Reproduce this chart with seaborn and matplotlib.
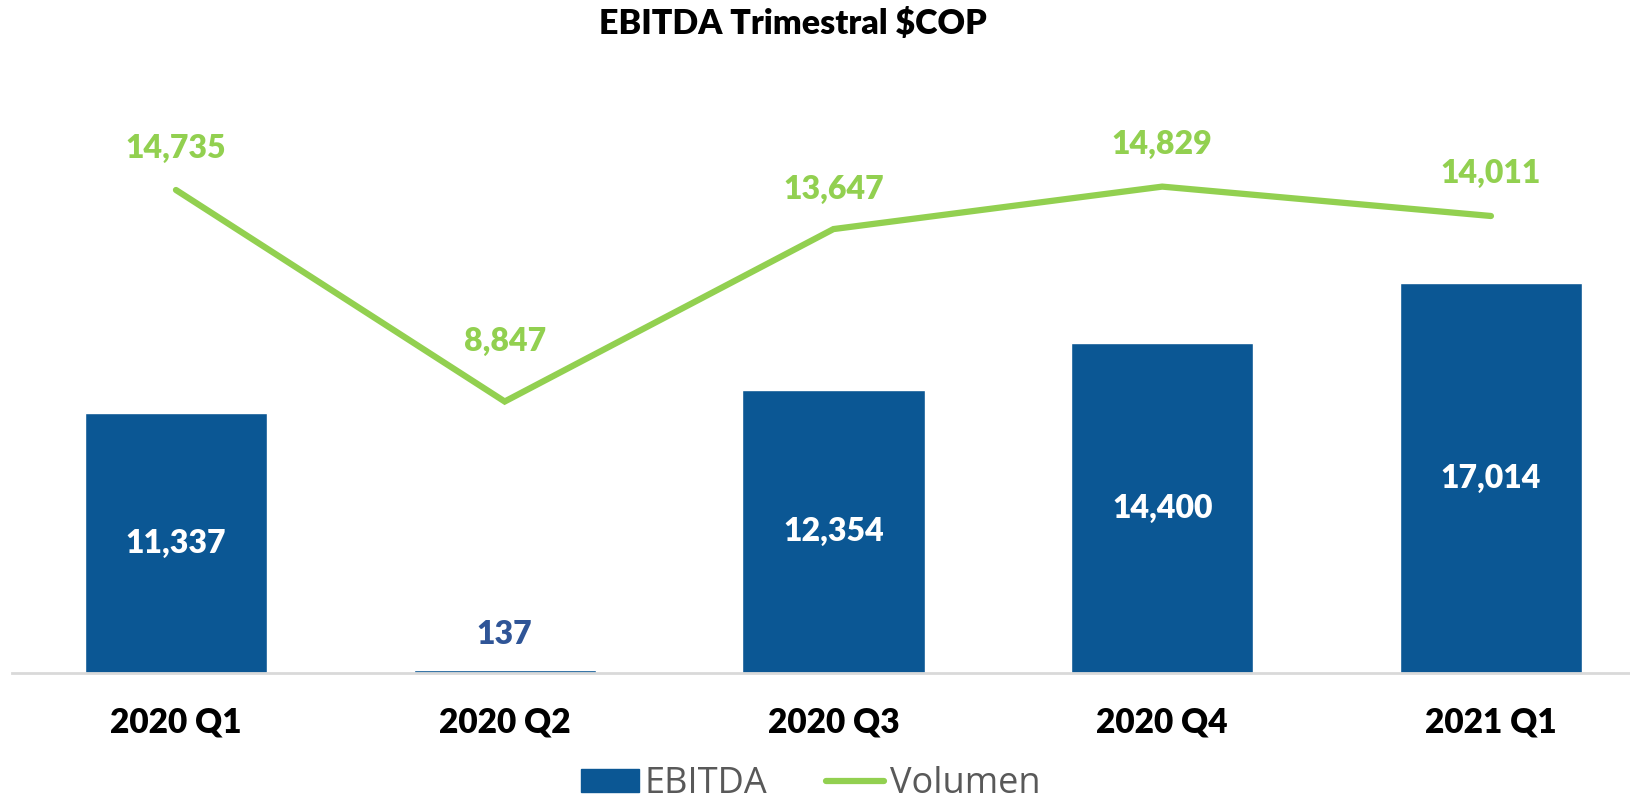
import numpy as np
import matplotlib.pyplot as plt
import seaborn as sns
from matplotlib.patches import Patch
from matplotlib.lines import Line2D

# data
QUARTERS = ["2020 Q1", "2020 Q2", "2020 Q3", "2020 Q4", "2021 Q1"]
EBITDA = [11337, 137, 12354, 14400, 17014]
VOLUMEN = [14735, 8847, 13647, 14829, 14011]

BAR_COLOR = "#0B5794"
LINE_COLOR = "#92D050"
SMALL_LABEL_COLOR = "#2F5597"
FONT = ["Lato", "DejaVu Sans"]
LBL = 23

sns.set_style("white")
plt.rcParams["font.family"] = FONT


def fmt(v):
    return f"{v:,}"


def main():
    fig = plt.figure(figsize=(16.31, 8.06), dpi=100)
    ax = fig.add_axes([11.6 / 1631, 133 / 806, 1 - 11.6 / 1631, 573 / 806])

    sns.barplot(x=QUARTERS, y=EBITDA, color=BAR_COLOR, width=0.554,
                saturation=1, ax=ax)
    ax.set_xlim(-0.5, 4.426)
    ax.set_ylim(0, 25000)

    ax2 = ax.twinx()
    xs = np.arange(len(QUARTERS))
    sns.lineplot(x=xs, y=VOLUMEN, color=LINE_COLOR, linewidth=4.5, ax=ax2,
                 solid_capstyle="round", solid_joinstyle="miter")
    ax2.set_ylim(1290, 17240)

    # bar labels
    for i, v in enumerate(EBITDA):
        if v > 2000:
            ax.text(i, v / 2, fmt(v), ha="center", va="center", color="white",
                    fontsize=LBL, fontweight="heavy")
        else:
            ax.annotate(fmt(v), (i, v), xytext=(0, 35), textcoords="offset pixels",
                        ha="center", va="center", color=SMALL_LABEL_COLOR,
                        fontsize=LBL, fontweight="heavy")

    # line labels (Q2 label sits a bit higher, like the original)
    offsets = [42, 60, 40, 42, 43]
    for i, v in enumerate(VOLUMEN):
        ax2.annotate(fmt(v), (i, v), xytext=(0, offsets[i]), textcoords="offset pixels",
                     ha="center", va="center", color=LINE_COLOR,
                     fontsize=LBL, fontweight="heavy")

    for a in (ax, ax2):
        for s in ("top", "right", "left"):
            a.spines[s].set_visible(False)
        a.set_yticks([])
        a.set_ylabel("")
    ax2.spines["bottom"].set_visible(False)
    ax.spines["bottom"].set_color("#D9D9D9")
    ax.spines["bottom"].set_linewidth(2)
    ax.set_xticks(xs)
    ax.set_xticklabels(QUARTERS, fontsize=24, fontweight="heavy", color="black")
    ax.tick_params(axis="x", length=0, pad=24)
    ax.set_xlim(-0.5, 4.426)

    fig.text(0.486, 1 - 24 / 806, "EBITDA Trimestral $COP", ha="center", va="center",
             fontsize=24.5, fontweight="heavy", color="black")

    handles = [Patch(facecolor=BAR_COLOR, edgecolor=BAR_COLOR),
               Line2D([], [], color=LINE_COLOR, linewidth=4.5, solid_capstyle="round")]
    fig.legend(handles, ["EBITDA", "Volumen"], loc="center", bbox_to_anchor=(0.497, 1 - 784 / 806),
               ncol=2, frameon=False, prop={"family": ["Open Sans", "DejaVu Sans"], "size": 26},
               handlelength=1.6, handleheight=0.6, handletextpad=0.15,
               columnspacing=1.65, labelcolor="#595959", borderpad=0.2)

    fig.savefig("out.png", dpi=100)
    plt.close(fig)


if __name__ == "__main__":
    main()
